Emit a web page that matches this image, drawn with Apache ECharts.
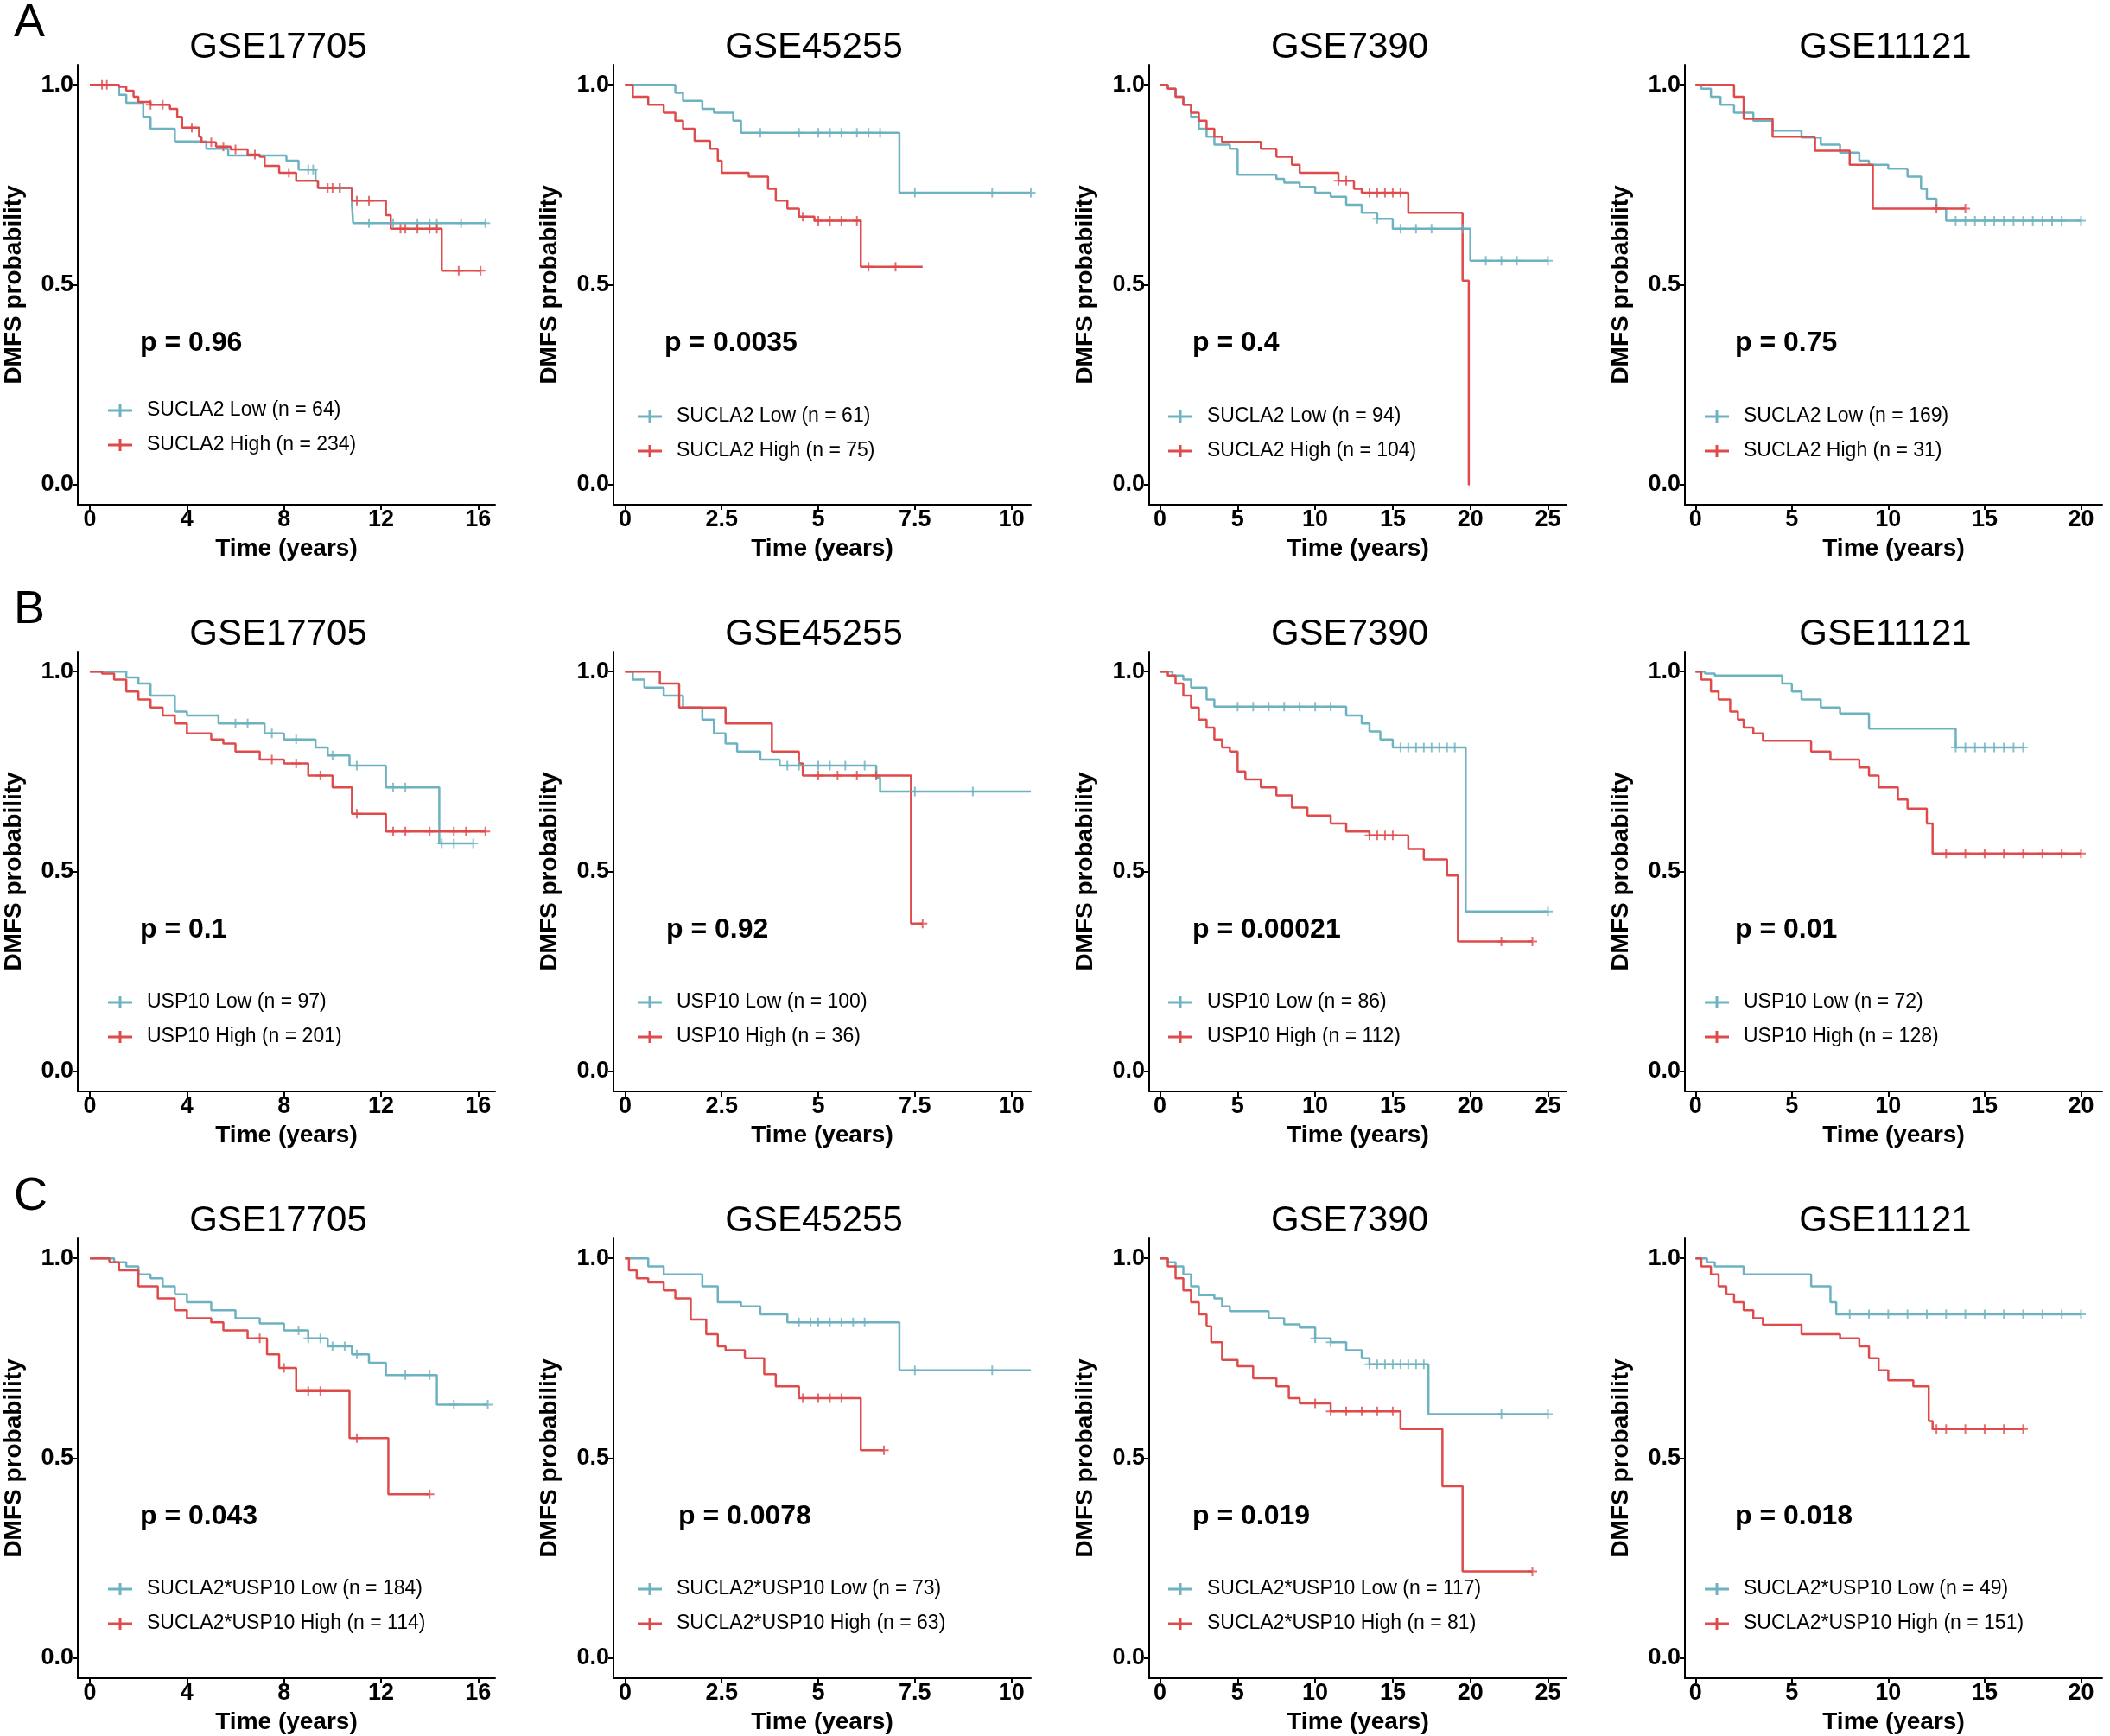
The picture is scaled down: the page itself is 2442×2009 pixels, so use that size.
<!DOCTYPE html>
<html>
<head>
<meta charset="utf-8">
<script src="https://cdn.jsdelivr.net/npm/echarts@6/dist/echarts.min.js"></script>
<style>html,body{margin:0;padding:0;background:#fff}#main{width:2442px;height:2009px}</style>
</head>
<body>
<div id="main"></div>
<script>
var datasets = ["GSE17705", "GSE45255", "GSE7390", "GSE11121"];
var rowLetters = ["A", "B", "C"];
var xTicks = [[0, 4, 8, 12, 16], [0, 2.5, 5, 7.5, 10], [0, 5, 10, 15, 20, 25], [0, 5, 10, 15, 20]];
var xRange = [[-0.5, 16.7], [-0.3, 10.5], [-0.7, 26.2], [-0.55, 21.1]];
var pValues = [
  ["p = 0.96", "p = 0.0035", "p = 0.4", "p = 0.75"],
  ["p = 0.1", "p = 0.92", "p = 0.00021", "p = 0.01"],
  ["p = 0.043", "p = 0.0078", "p = 0.019", "p = 0.018"]
];
var lowLabels = [
  ["SUCLA2 Low (n = 64)", "SUCLA2 Low (n = 61)", "SUCLA2 Low (n = 94)", "SUCLA2 Low (n = 169)"],
  ["USP10 Low (n = 97)", "USP10 Low (n = 100)", "USP10 Low (n = 86)", "USP10 Low (n = 72)"],
  ["SUCLA2*USP10 Low (n = 184)", "SUCLA2*USP10 Low (n = 73)", "SUCLA2*USP10 Low (n = 117)", "SUCLA2*USP10 Low (n = 49)"]
];
var highLabels = [
  ["SUCLA2 High (n = 234)", "SUCLA2 High (n = 75)", "SUCLA2 High (n = 104)", "SUCLA2 High (n = 31)"],
  ["USP10 High (n = 201)", "USP10 High (n = 36)", "USP10 High (n = 112)", "USP10 High (n = 128)"],
  ["SUCLA2*USP10 High (n = 114)", "SUCLA2*USP10 High (n = 63)", "SUCLA2*USP10 High (n = 81)", "SUCLA2*USP10 High (n = 151)"]
];

// step curves: [time, survival after drop]; last point = end of follow-up
var lowCurves = [
  [
    [[0,1],[1.2,0.975],[1.5,0.955],[2.2,0.92],[2.5,0.89],[3.5,0.858],[4.8,0.84],[5.7,0.823],[8.1,0.81],[8.6,0.788],[9.3,0.76],[9.4,0.742],[10.8,0.70],[10.85,0.654],[16.3,0.654]],
    [[0,1],[1.3,0.98],[1.5,0.96],[2.0,0.94],[2.3,0.93],[2.8,0.91],[3.0,0.88],[7.1,0.73],[10.5,0.73]],
    [[0,1],[0.5,0.99],[1,0.97],[1.5,0.95],[2,0.92],[2.5,0.89],[3,0.87],[3.5,0.85],[4.5,0.84],[5,0.775],[7.5,0.765],[8,0.755],[9,0.745],[10,0.73],[11,0.72],[12,0.70],[13,0.68],[14,0.665],[15,0.64],[20,0.56],[25,0.56]],
    [[0,1],[0.3,0.99],[0.8,0.97],[1.3,0.95],[2,0.93],[3,0.91],[4,0.885],[5.5,0.868],[6.5,0.85],[7.5,0.83],[8.5,0.81],[9,0.80],[10,0.79],[11,0.77],[11.7,0.74],[12,0.715],[12.5,0.69],[13,0.66],[20,0.66]]
  ],
  [
    [[0,1],[1.5,0.985],[2,0.97],[2.5,0.94],[3.5,0.90],[4,0.89],[5.3,0.87],[7.2,0.845],[8,0.83],[9.3,0.81],[9.8,0.79],[10.7,0.765],[12.2,0.71],[14.4,0.57],[15.8,0.57]],
    [[0,1],[0.2,0.98],[0.5,0.96],[1,0.94],[1.5,0.91],[2,0.88],[2.3,0.845],[2.6,0.82],[2.9,0.80],[3.5,0.78],[4,0.765],[6.5,0.735],[6.6,0.70],[10.5,0.70]],
    [[0,1],[0.8,0.99],[1.5,0.98],[2,0.96],[3,0.93],[3.5,0.912],[12,0.89],[13,0.87],[13.5,0.85],[14.2,0.83],[15,0.81],[19.7,0.40],[25,0.40]],
    [[0,1],[0.5,0.995],[1,0.99],[4.5,0.97],[5,0.95],[5.5,0.93],[6.5,0.91],[7.5,0.895],[9,0.857],[13.5,0.81],[17,0.81]]
  ],
  [
    [[0,1],[1,0.99],[1.5,0.98],[2,0.96],[2.5,0.95],[3,0.93],[3.5,0.91],[4,0.89],[5,0.87],[6,0.85],[7,0.837],[8,0.82],[9,0.80],[9.8,0.78],[10.8,0.76],[11.5,0.739],[12.2,0.708],[14.3,0.634],[16.4,0.634]],
    [[0,1],[0.6,0.98],[1,0.96],[2,0.93],[2.4,0.89],[3,0.88],[3.5,0.86],[4.2,0.84],[7.1,0.72],[10.5,0.72]],
    [[0,1],[0.5,0.99],[1,0.98],[1.5,0.96],[2,0.93],[2.5,0.908],[3.5,0.90],[4,0.88],[4.5,0.868],[7,0.85],[8,0.835],[9,0.827],[10,0.80],[11,0.79],[12,0.77],[13,0.75],[13.5,0.735],[17.3,0.61],[25,0.61]],
    [[0,1],[0.6,0.99],[1,0.98],[2.5,0.96],[6,0.93],[7,0.89],[7.3,0.86],[20,0.86]]
  ]
];
var highCurves = [
  [
    [[0,1],[1.2,0.995],[1.5,0.985],[1.8,0.97],[2,0.957],[2.5,0.95],[3.3,0.94],[3.6,0.92],[3.8,0.893],[4.5,0.87],[4.6,0.856],[5.2,0.845],[5.8,0.838],[6.5,0.825],[7.0,0.82],[7.2,0.797],[7.8,0.78],[8.5,0.76],[9.4,0.742],[10.8,0.71],[12.2,0.674],[12.4,0.64],[14.5,0.535],[16.1,0.535]],
    [[0,1],[0.2,0.97],[0.6,0.95],[1.0,0.93],[1.3,0.91],[1.5,0.89],[1.8,0.86],[2.2,0.84],[2.4,0.81],[2.5,0.78],[3.2,0.77],[3.7,0.74],[3.9,0.71],[4.2,0.69],[4.5,0.67],[4.9,0.66],[6.1,0.545],[7.7,0.545]],
    [[0,1],[0.5,0.99],[1,0.97],[1.5,0.95],[2,0.93],[2.5,0.91],[3,0.89],[3.5,0.87],[4,0.857],[6.5,0.84],[7.5,0.82],[8.5,0.80],[9,0.78],[11.5,0.76],[12.5,0.74],[13,0.73],[16,0.68],[19.5,0.51],[19.9,0],[19.95,0]],
    [[0,1],[2,0.97],[2.5,0.915],[4,0.87],[6.2,0.835],[8,0.80],[9.2,0.69],[14,0.69]]
  ],
  [
    [[0,1],[0.5,0.995],[1,0.98],[1.5,0.95],[2,0.93],[2.5,0.91],[3,0.89],[3.5,0.87],[4,0.845],[5,0.83],[5.5,0.82],[6,0.80],[7,0.78],[8,0.77],[9,0.74],[10,0.71],[10.8,0.644],[12.2,0.60],[16.3,0.60]],
    [[0,1],[0.9,0.97],[1.4,0.91],[2.6,0.87],[3.8,0.80],[4.5,0.77],[4.6,0.74],[7.4,0.37],[7.7,0.37]],
    [[0,1],[0.5,0.99],[1,0.97],[1.5,0.94],[2,0.91],[2.5,0.88],[3,0.86],[3.5,0.83],[4,0.81],[4.5,0.80],[5,0.75],[5.5,0.73],[6.5,0.71],[7.5,0.69],[8.5,0.66],[9.5,0.64],[11,0.62],[12,0.60],[13.5,0.59],[16,0.556],[17,0.53],[18.5,0.49],[19.2,0.325],[24,0.325]],
    [[0,1],[0.3,0.98],[0.8,0.95],[1.2,0.93],[1.8,0.90],[2.2,0.88],[2.5,0.86],[3.0,0.845],[3.5,0.827],[6,0.80],[7,0.78],[8.5,0.76],[9,0.74],[9.5,0.71],[10.5,0.68],[11,0.657],[12,0.62],[12.3,0.545],[20,0.545]]
  ],
  [
    [[0,1],[0.8,0.99],[1.2,0.97],[2,0.93],[2.8,0.90],[3.5,0.87],[4,0.85],[5,0.84],[5.5,0.82],[6.5,0.80],[7.3,0.76],[7.8,0.726],[8.5,0.668],[10.7,0.55],[12.3,0.41],[14,0.41]],
    [[0,1],[0.1,0.97],[0.3,0.95],[0.6,0.94],[1.0,0.92],[1.3,0.90],[1.7,0.847],[2.1,0.81],[2.4,0.78],[2.6,0.77],[3.1,0.75],[3.6,0.71],[3.9,0.68],[4.5,0.65],[6.1,0.52],[6.7,0.52]],
    [[0,1],[0.5,0.98],[1,0.95],[1.5,0.92],[2,0.89],[2.5,0.86],[3,0.83],[3.3,0.79],[4,0.746],[5,0.73],[6,0.70],[7.5,0.68],[8.3,0.65],[9,0.637],[11,0.617],[15.5,0.573],[18.2,0.43],[19.5,0.217],[24,0.217]],
    [[0,1],[0.3,0.98],[0.8,0.96],[1.2,0.93],[1.6,0.91],[2,0.89],[2.5,0.87],[3,0.85],[3.5,0.834],[5.5,0.81],[7.5,0.80],[8.5,0.78],[9,0.75],[9.5,0.72],[10,0.695],[11.3,0.68],[12.1,0.593],[12.3,0.573],[17,0.573]]
  ]
];
// censoring times
var lowCensor = [
  [[9.0,9.2,10.3,11.5,12.5,13.5,14,14.3,15.3,16.3],[3.5,4.5,5.0,5.3,5.6,6.0,6.3,6.6,7.5,9.5,10.5],[14,15.5,16.5,17.5,19.5,21,22,23,25],[13.5,14,14.5,15,15.5,16,16.5,17,17.5,18,18.5,19,20]],
  [[6,6.5,7.5,8.5,10,11,12.5,13,14.5,15,15.8],[4.2,4.5,5,5.3,5.7,6.2,7.5,9],[5,6,7,8,9,10,11,15.5,16,16.5,17,17.5,18,18.5,19,25],[13.5,14,14.5,15,15.5,16,16.5,17]],
  [[8.6,9,9.5,10,10.5,11,13,14,15,16.4],[4.5,4.8,5,5.3,5.6,5.9,6.2,7.5,9.5],[10,11,13.5,14,14.5,15,15.5,16,16.5,17,22,25],[8,9,10,11,12,13,14,15,16,17,18,19,20]]
];
var highCensor = [
  [[0.5,0.7,2.5,3,4.2,5,5.5,6,6.8,8.2,9.8,10,10.3,11,11.5,12.8,13,13.5,14,14.3,15.2,16.1],[4.6,5,5.3,5.6,6,6.3,7],[11.5,12,13.5,14,14.5,15,15.5],[12.5,14]],
  [[7.5,8.5,9.5,11,12.5,13,14,15,15.5,16.3],[5,5.5,6,6.5,7.7],[13.5,14,14.5,15,22,24],[13,14,15,16,17,18,19,20]],
  [[7,8,9,9.5,11,14],[4.6,5,5.3,5.6,6.7],[10,11,12,13,14,15,24],[12.5,13,14,15,16,17]]
];

var BLUE = "#6db2c1", RED = "#df4a4b";
var FONT = "Liberation Sans, Arial, sans-serif";
var colX = 620, rowY = 679;
var pX = [[162,769,1380,2008],[162,771,1380,2008],[162,785,1380,2008]];
var pY = [397, 1076, 1755];
var legX = [125, 738, 1352, 1973];
var legY = [[475,482,482,482],[1160,1160,1160,1160],[1839,1839,1839,1839]];

function survAt(curve, t) {
  var s = 1;
  for (var i = 0; i < curve.length; i++) { if (curve[i][0] <= t) s = curve[i][1]; }
  return s;
}

var plus = "path://M0,5L10,5M5,0L5,10";
var grids = [], xAxes = [], yAxes = [], series = [], graphics = [];
var k = 0;
for (var r = 0; r < 3; r++) {
  graphics.push({ type: "text", left: 16, top: 0 + r * rowY, style: { text: rowLetters[r], font: "54px " + FONT, fill: "#000" } });
  for (var c = 0; c < 4; c++) {
    grids.push({ left: 90 + c * colX, top: 75 + r * rowY, width: 483, height: 509 });
    xAxes.push({
      gridIndex: k, type: "value", min: xRange[c][0], max: xRange[c][1],
      name: "Time (years)", nameLocation: "middle", nameGap: 37,
      nameTextStyle: { fontSize: 28, fontWeight: "bold", color: "#000", fontFamily: FONT },
      axisLine: { onZero: false, lineStyle: { color: "#000", width: 2 } },
      axisTick: { customValues: xTicks[c], length: 6, lineStyle: { color: "#000", width: 2 } },
      axisLabel: { customValues: xTicks[c], fontSize: 27, fontWeight: "bold", color: "#000", fontFamily: FONT, margin: 4 },
      splitLine: { show: false }
    });
    yAxes.push({
      gridIndex: k, type: "value", min: -0.05, max: 1.05,
      name: "DMFS probability", nameLocation: "middle", nameGap: 60,
      nameTextStyle: { fontSize: 28, fontWeight: "bold", color: "#000", fontFamily: FONT },
      axisLine: { onZero: false, lineStyle: { color: "#000", width: 2 } },
      axisTick: { customValues: [0, 0.5, 1], length: 6, lineStyle: { color: "#000", width: 2 } },
      axisLabel: { customValues: [0, 0.5, 1], formatter: function (v) { return v.toFixed(1); }, fontSize: 27, fontWeight: "bold", color: "#000", fontFamily: FONT, margin: 5 },
      splitLine: { show: false }
    });
    var pairs = [[lowCurves[r][c], lowCensor[r][c], BLUE], [highCurves[r][c], highCensor[r][c], RED]];
    pairs.forEach(function (p) {
      series.push({ type: "line", xAxisIndex: k, yAxisIndex: k, step: "end", data: p[0], showSymbol: false, lineStyle: { color: p[2], width: 2.5 }, animation: false, z: 2 });
      series.push({
        type: "scatter", xAxisIndex: k, yAxisIndex: k, symbol: plus, symbolSize: 11,
        data: p[1].map(function (t) { return [t, survAt(p[0], t)]; }),
        itemStyle: { color: "none", borderColor: p[2], borderWidth: 2 }, animation: false, z: 3
      });
    });
    graphics.push({ type: "text", x: 322 + c * colX, y: 55 + r * rowY, style: { text: datasets[c], font: "42px " + FONT, fill: "#000", textAlign: "center", textVerticalAlign: "middle" } });
    graphics.push({ type: "text", x: pX[r][c], y: pY[r], style: { text: pValues[r][c], font: "bold 32px " + FONT, fill: "#000", textVerticalAlign: "middle" } });
    [[lowLabels[r][c], BLUE, 0], [highLabels[r][c], RED, 40]].forEach(function (L) {
      var lx = legX[c], ly = legY[r][c] + L[2];
      graphics.push({ type: "line", shape: { x1: lx, y1: ly, x2: lx + 28, y2: ly }, style: { stroke: L[1], lineWidth: 3 } });
      graphics.push({ type: "line", shape: { x1: lx + 14, y1: ly - 7, x2: lx + 14, y2: ly + 7 }, style: { stroke: L[1], lineWidth: 3 } });
      graphics.push({ type: "text", x: lx + 45, y: ly, style: { text: L[0], font: "23px " + FONT, fill: "#000", textVerticalAlign: "middle" } });
    });
    k++;
  }
}

var chart = echarts.init(document.getElementById("main"));
chart.setOption({ backgroundColor: "#fff", animation: false, grid: grids, xAxis: xAxes, yAxis: yAxes, series: series, graphic: graphics });
</script>
</body>
</html>
